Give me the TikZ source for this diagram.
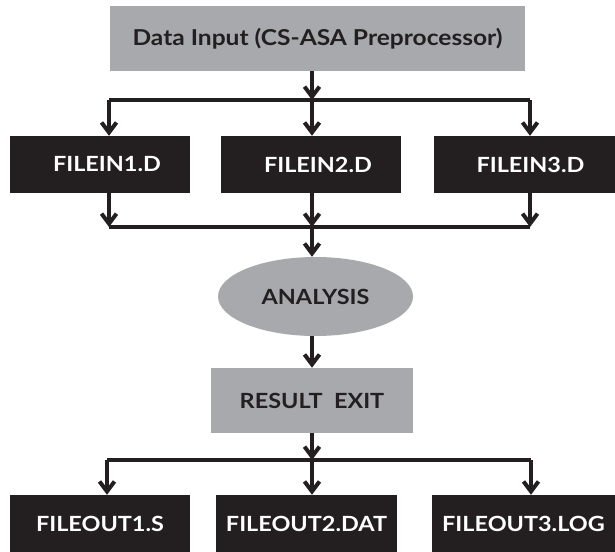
\documentclass[tikz,border=0pt]{standalone}
\usepackage{fontspec}
\setmainfont{Lato}[FakeStretch=1.12]
\usepackage{tikz}
\usetikzlibrary{arrows.meta, positioning, shapes.geometric}

\definecolor{boxgray}{HTML}{A7A9AC}
\definecolor{inkblack}{HTML}{231F20}

\tikzset{
  graybox/.style={rectangle, fill=boxgray, text=inkblack, inner sep=0pt, minimum height=65bp, font=\bfseries\fontsize{21}{24}\selectfont},
  filebox/.style={rectangle, fill=inkblack, text=white, inner sep=0pt, minimum height=57bp, font=\bfseries\fontsize{21}{24}\selectfont},
  flow/.style={line width=4bp, draw=inkblack},
  arr/.style={flow, -{Straight Barb[length=10bp, width=15bp]}}
}

\begin{document}
\begin{tikzpicture}[x=1bp, y=-1bp]
        \useasboundingbox (0,0) rectangle (615,552);
        % Input stage
        \node[graybox, minimum width=415bp, font=\bfseries\fontsize{22}{25}\selectfont] (top) at (317.5,38.5) {Data Input (CS-ASA Preprocessor)};
        \node[filebox, minimum width=180bp] (in1) at (100,164.5) {\hspace*{14bp}FILEIN1.D};
        \node[filebox, minimum width=180bp] (in2) at (311,164.5) {\hspace*{14bp}FILEIN2.D};
        \node[filebox, minimum width=181bp] (in3) at (524.5,164.5) {\hspace*{12bp}FILEIN3.D};
        % Analysis and result
        \node[ellipse, fill=boxgray, text=inkblack, minimum width=195bp, minimum height=79bp, inner sep=0pt,
              font=\bfseries\fontsize{21}{24}\selectfont] (ana) at (315.5,296.5) {ANALYSIS};
        \node[graybox, minimum width=202bp] (res) at (312,400.5) {RESULT\ \ EXIT};
        % Output files
        \node[filebox, minimum width=180bp] (out1) at (100,523.5) {FILEOUT1.S};
        \node[filebox, minimum width=181bp] (out2) at (306.5,523.5) {FILEOUT2.DAT};
        \node[filebox, minimum width=183bp] (out3) at (523.5,523.5) {FILEOUT3.LOG};

        % Junctions
        \coordinate (split) at (312,100);
        \coordinate (splitL) at (109,100);
        \coordinate (splitR) at (530,100);
        \coordinate (merge) at (312,227);
        \coordinate (mergeL) at (109,227);
        \coordinate (mergeR) at (530,227);
        \coordinate (fan) at (312,460);
        \coordinate (fanL) at (107,460);
        \coordinate (fanR) at (531,460);

        % Split to input files
        \draw[arr] (top.south -| split) -- (split);
        \draw[flow] (splitL) -- (splitR);
        \foreach \file/\at in {in1/splitL, in2/split, in3/splitR} {
          \draw[arr] (\at) -- (\at |- \file.north);
        }
        % Merge into analysis
        \foreach \file/\at in {in1/mergeL, in2/merge, in3/mergeR} {
          \draw[arr] (\at |- \file.south) -- (\at);
        }
        \draw[flow] (mergeL) -- (mergeR);
        \draw[arr] (merge) -- (merge |- ana.north);
        \draw[arr] (ana.south -| merge) -- (merge |- res.north);
        % Fan out to output files
        \draw[arr] (res.south -| fan) -- (fan);
        \draw[flow] (fanL) -- (fanR);
        \foreach \file/\at in {out1/fanL, out2/fan, out3/fanR} {
          \draw[arr] (\at) -- (\at |- \file.north);
        }
      \end{tikzpicture}
\end{document}
